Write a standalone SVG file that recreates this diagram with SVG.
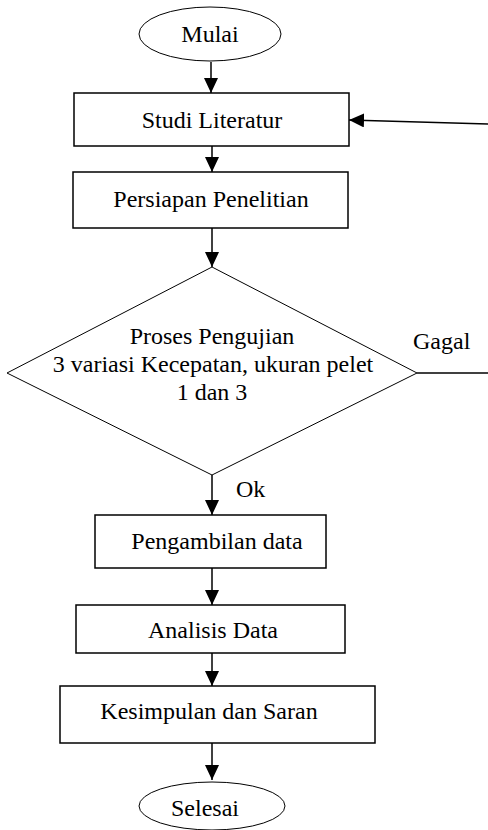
<svg xmlns="http://www.w3.org/2000/svg" width="488" height="830" viewBox="0 0 488 830">
  <style>
    .shape { fill: #fff; stroke: #000; stroke-width: 1.5; }
    .thin { fill: #fff; stroke: #000; stroke-width: 1; }
    .lbl { font-family: 'Liberation Serif', 'DejaVu Serif', serif; font-size: 24px; fill: #000; text-anchor: middle; }
    .side { font-family: 'Liberation Serif', 'DejaVu Serif', serif; font-size: 24px; fill: #000; }
    .wire { fill: none; stroke: #000; stroke-width: 1.5; }
  </style>
  <defs>
    <marker id="bighead" viewBox="0 0 10 10" refX="10" refY="5" markerWidth="15" markerHeight="14" markerUnits="userSpaceOnUse" orient="auto" preserveAspectRatio="none">
      <path d="M0,0 L10,5 L0,10 Z" fill="#000"/>
    </marker>
  </defs>

  <g id="connectors">
    <line class="wire" x1="211" y1="62" x2="211" y2="93" marker-end="url(#bighead)"/>
    <line class="wire" x1="212" y1="146" x2="212" y2="172" marker-end="url(#bighead)"/>
    <line class="wire" x1="212" y1="228" x2="212" y2="267" marker-end="url(#bighead)"/>
    <line class="wire" x1="212" y1="475" x2="212" y2="515" marker-end="url(#bighead)"/>
    <line class="wire" x1="212" y1="568" x2="212" y2="605" marker-end="url(#bighead)"/>
    <line class="wire" x1="212" y1="653" x2="212" y2="686" marker-end="url(#bighead)"/>
    <line class="wire" x1="212" y1="743" x2="212" y2="780" marker-end="url(#bighead)"/>
    <!-- failure loop back to the literature study -->
    <line class="wire" x1="417" y1="373" x2="488" y2="373"/>
    <line class="wire" x1="488" y1="124" x2="349" y2="120" marker-end="url(#bighead)"/>
    <text class="side" x="413" y="349">Gagal</text>
    <text class="side" x="236" y="497">Ok</text>
  </g>

  <g id="mulai">
    <ellipse class="thin" cx="210" cy="34" rx="71" ry="27"/>
    <text class="lbl" x="210" y="42">Mulai</text>
  </g>
  <g id="studi-literatur">
    <rect class="shape" x="74" y="93" width="275" height="53"/>
    <text class="lbl" x="212" y="128">Studi Literatur</text>
  </g>
  <g id="persiapan">
    <rect class="shape" x="73" y="172" width="275" height="56"/>
    <text class="lbl" x="211" y="207">Persiapan Penelitian</text>
  </g>
  <g id="pengujian">
    <polygon class="thin" points="212,267 417,373 212,475 7,373"/>
    <text class="lbl" x="212" y="344">Proses Pengujian</text>
    <text class="lbl" x="213" y="372">3 variasi Kecepatan, ukuran pelet</text>
    <text class="lbl" x="212" y="400">1 dan 3</text>
  </g>
  <g id="pengambilan">
    <rect class="shape" x="95" y="515" width="231" height="53"/>
    <text class="lbl" x="217" y="549">Pengambilan data</text>
  </g>
  <g id="analisis">
    <rect class="shape" x="76" y="605" width="269" height="48"/>
    <text class="lbl" x="213" y="638">Analisis Data</text>
  </g>
  <g id="kesimpulan">
    <rect class="shape" x="60" y="686" width="315" height="57"/>
    <text class="lbl" x="209" y="719">Kesimpulan dan Saran</text>
  </g>
  <g id="selesai">
    <ellipse class="thin" cx="212" cy="806" rx="73" ry="24"/>
    <text class="lbl" x="205" y="816">Selesai</text>
  </g>
</svg>
